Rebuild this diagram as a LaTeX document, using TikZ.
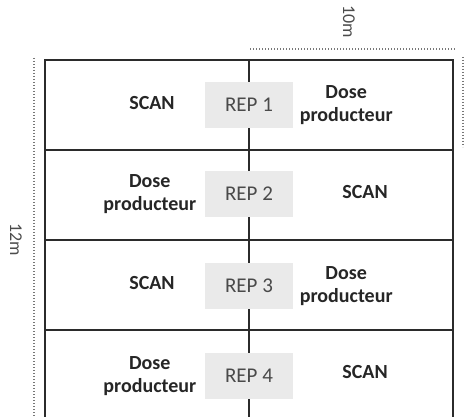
\documentclass[tikz,border=0pt]{standalone}
\usepackage{fontspec}
\setmainfont{Carlito}
\usetikzlibrary{positioning}
\definecolor{linegray}{HTML}{2B2B2B}
\definecolor{repfill}{HTML}{EAEAEA}
\definecolor{reptext}{HTML}{4A4A4A}
\definecolor{dimgray}{HTML}{777777}
\tikzset{
  plotrow/.style = {rectangle, draw=linegray, line width=0.8pt, minimum width=204pt, minimum height=45pt, inner sep=0pt},
  rep/.style = {rectangle, fill=repfill, minimum width=44pt, minimum height=23pt, inner sep=0pt, text=reptext, font=\fontsize{10.5}{12}\selectfont},
  trt/.style = {align=center, font=\fontsize{10}{11.5}\selectfont\bfseries, text=black!85, inner sep=1pt},
  cote/.style = {draw=dimgray, line width=0.9pt, dash pattern=on 0.6pt off 0.9pt},
  cotelabel/.style = {rotate=-90, font=\fontsize{9}{10}\selectfont, text=black!70}
}

\begin{document}
\begin{tikzpicture}[x=0.5pt, y=-0.5pt]
\useasboundingbox (0, 0) rectangle (474, 416);
\fill [white] (0, 0) rectangle (474, 416);
% the four plots
\node [plotrow] (row1) at (249, 105) {};
\node [plotrow] (row2) at (249, 195) {};
\node [plotrow] (row3) at (249, 285) {};
\node [plotrow] (row4) at (249, 375) {};
\draw [draw=linegray, line width=1.1pt] (row1.north) to (row4.south);
% repetitions
\node [rep] (rep1) at (249, 105) {REP 1};
\node [rep] (rep2) at (249, 194) {REP 2};
\node [rep] (rep3) at (249, 286) {REP 3};
\node [rep] (rep4) at (249, 376) {REP 4};
% treatments
\node [trt] (scan1) at (152, 103) {SCAN};
\node [trt, right=2pt of rep1] (dose1) {Dose\\producteur};
\node [trt, left=3pt of rep2] (dose2) {Dose\\producteur};
\node [trt] (scan2) at (365, 192) {SCAN};
\node [trt] (scan3) at (152, 283) {SCAN};
\node [trt, right=2pt of rep3] (dose3) {Dose\\producteur};
\node [trt, left=3pt of rep4] (dose4) {Dose\\producteur};
\node [trt] (scan4) at (365, 372) {SCAN};
% dimensions
\coordinate (ltop) at (34, 58);
\coordinate (lbot) at (34, 420);
\coordinate (tleft) at (250, 49);
\coordinate (tright) at (455, 49);
\coordinate (rtop) at (463, 57);
\coordinate (rbot) at (463, 147);
\draw [cote] (ltop) to (lbot);
\draw [cote] (tleft) to (tright);
\draw [cote] (rtop) to (rbot);
\node [cotelabel] (long) at (16, 240) {12m};
\node [cotelabel] (larg) at (349, 22) {10m};
\end{tikzpicture}
\end{document}
